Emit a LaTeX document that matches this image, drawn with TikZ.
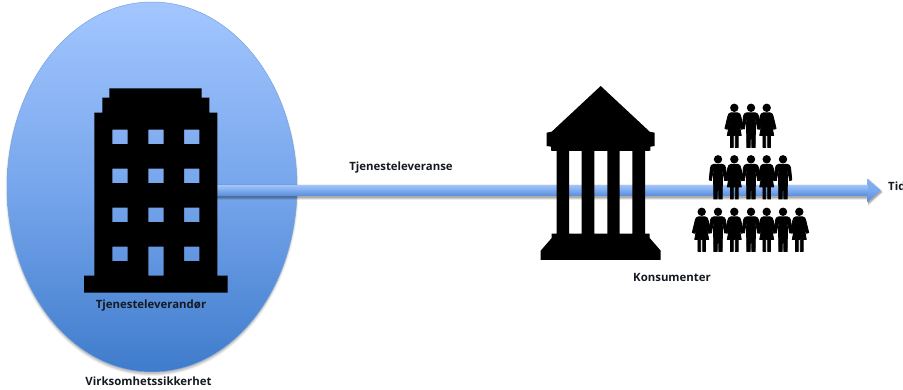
\documentclass[tikz,border=0pt]{standalone}
\usepackage{fontspec}
\setmainfont{Open Sans}
\usetikzlibrary{calc}
\definecolor{elltop}{HTML}{A3C6FF}
\definecolor{ellmid}{HTML}{77A6EC}
\definecolor{ellbot}{HTML}{3F7CCC}
\definecolor{shafttop}{HTML}{A0C4FA}
\definecolor{shaftmid}{HTML}{7AA8EE}
\definecolor{shaftbot}{HTML}{5A8CD8}
\definecolor{labelink}{HTML}{151A22}
\tikzset{
  label text/.style={font=\bfseries\fontsize{11.4pt}{13pt}\selectfont, text=labelink, inner sep=0pt},
  silhouette/.style={fill=black, draw=none},
  person man/.pic={
    \fill (0,4.3) circle (4.2);
    \fill[draw=black,line width=0.8pt,line join=round] (-4.6,9.4) -- (4.6,9.4) .. controls (6.5,9.6) and (7.2,11) .. (7.6,13) -- (8.8,25) -- (6.6,25.5) -- (4.8,15) -- (4.4,26) -- (4.2,44) -- (0.8,44) -- (0.5,28) -- (-0.5,28) -- (-0.8,44) -- (-4.2,44) -- (-4.4,26) -- (-4.8,15) -- (-6.6,25.5) -- (-8.8,25) -- (-7.6,13) .. controls (-7.2,11) and (-6.5,9.6) .. (-4.6,9.4) -- cycle;
  },
  person woman/.pic={
    \fill (0,4.3) circle (4.2);
    \fill[draw=black,line width=0.8pt,line join=round] (-3.6,9.4) -- (3.6,9.4) .. controls (5.5,9.6) and (6,11) .. (6.5,13) -- (9.4,25) -- (7.2,25.8) -- (4,15.5) -- (7,32) -- (3.8,32) -- (3.8,44) -- (1,44) -- (1,32) -- (-1,32) -- (-1,44) -- (-3.8,44) -- (-3.8,32) -- (-7,32) -- (-4,15.5) -- (-7.2,25.8) -- (-9.4,25) -- (-6.5,13) .. controls (-6,11) and (-5.5,9.6) .. (-3.6,9.4) -- cycle;
  }
}
\begin{document}
\begin{tikzpicture}[x=1pt,y=-1pt]
\useasboundingbox (0,0) rectangle (903,390);
\clip (0,0) rectangle (903,390);
\fill[white] (0,0) rectangle (903,390);
% ellipse shadow
\foreach \r/\o in {3/0.06,2/0.08,1/0.1}
  \fill[black,opacity=\o] (152,189) ellipse ({143.5+\r} and {184+\r});
% ellipse
\path[top color=elltop,bottom color=ellbot,middle color=ellmid] (152,187) ellipse (145 and 185);
\draw[draw=ellbot!70!white,line width=0.5pt] (152,187) ellipse (145 and 185);
% arrow shadow
\foreach \r/\o in {2.5/0.08,1.5/0.12,0.5/0.16}
  \fill[black,opacity=\o] (217,185.5-\r+1.5) -- (868,185.5-\r+1.5) -- (868,179-\r+1.5) -- (881+\r,190.5+1.5) -- (868,202+\r+1.5) -- (868,196+\r+1.5) -- (217,196+\r+1.5) -- cycle;
% arrow
\path[top color=shaftmid!70!shafttop,bottom color=shaftbot,middle color=shaftmid] (867.6,179) -- (881,190.5) -- (867.6,202) -- cycle;
\path[top color=shafttop,bottom color=shaftbot,middle color=shaftmid] (217,185.3) rectangle (868,196);
% building
\fill[silhouette,even odd rule]
  (109.3,88.3) -- (201.7,88.3) -- (201.7,97.7) -- (209.3,97.7) -- (209.3,112.7) -- (217.3,112.7) -- (217.3,275.7) -- (227.7,275.7) -- (227.7,292.7) -- (84,292.7) -- (84,275.7) -- (94.3,275.7) -- (94.3,112.7) -- (102.3,112.7) -- (102.3,97.7) -- (109.3,97.7) -- cycle
  \foreach \y in {129.7,168.7,207.7} {
    (112.3,\y) rectangle ++(15.4,14.5)
    (148.3,\y) rectangle ++(15.4,14.5)
    (184,\y) rectangle ++(15.4,14.5)
  }
  (112.3,246.7) rectangle ++(15.4,14.5)
  (184,246.7) rectangle ++(15.4,14.5)
  (148.3,246.7) rectangle (163.7,275.7);
% temple
\fill[silhouette,even odd rule]
  (600.7,86) -- (649.7,131.7) -- (654.7,132.7) -- (654.7,146) -- (650.3,146.7) -- (650.3,150.7) -- (645,151) -- (645,233.7) -- (649.7,233.7) -- (649.7,238) -- (660.7,250.7) -- (660.7,260) -- (540.7,260) -- (540.7,250.7) -- (551.7,238) -- (551.7,233.7) -- (556.7,233.7) -- (556.7,151) -- (551,150.7) -- (551,146.7) -- (546.7,146) -- (546.7,132.7) -- (551.7,131.7) -- cycle
  (569,151) rectangle (581.7,233.7)
  (594.3,151) rectangle (607.3,233.7)
  (619.7,151) rectangle (632.3,233.7);
% people
\begin{scope}[fill=black]
\foreach \px/\py/\kind in {
  734.3/103.5/woman,751/103.5/man,766.7/103.5/woman,
  718/155/man,734.3/155/woman,751/155/man,766.7/155/woman,783/155/man,
  701.7/207.5/woman,718/207.5/man,734.3/207.5/woman,751/207.5/man,766.7/207.5/woman,783/207.5/man,799.3/207.5/woman}
  \pic at (\px,\py) {person \kind};
\end{scope}
% labels
\node[label text] (lev) at (151,306) {Tjenesteleverandør};
\node[label text] (virk) at (148.5,381) {Virksomhetssikkerhet};
\node[label text] (tje) at (401,168) {Tjenesteleveranse};
\node[label text] (kon) at (672,277) {Konsumenter};
\node[label text,anchor=west] (tid) at (888,186) {Tid};
\end{tikzpicture}
\end{document}
